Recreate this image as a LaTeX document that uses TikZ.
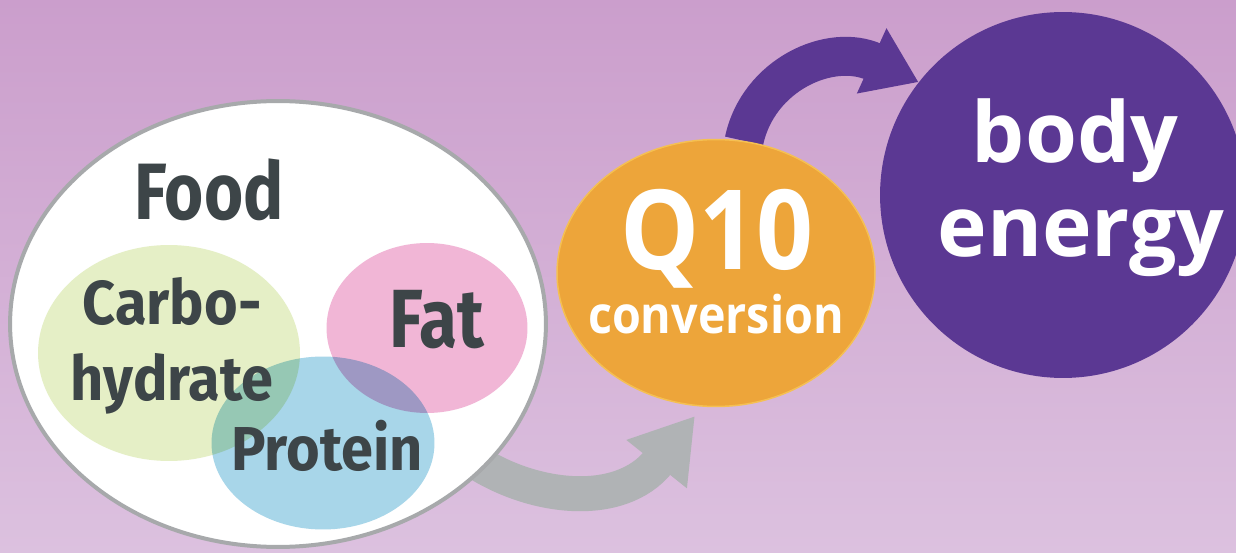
\documentclass[tikz,border=0pt]{standalone}
\usepackage{fontspec}
\usetikzlibrary{shapes.geometric,arrows.meta}
\newfontfamily\darkfont[FakeStretch=0.84]{Fira Sans}
\newfontfamily\darksmall[FakeStretch=0.93]{Fira Sans}
\newfontfamily\lightfont{Open Sans}
\newfontfamily\lightnarrow[FakeStretch=0.9]{Open Sans}
\definecolor{bgtop}{HTML}{CB9ECC}
\definecolor{bgbot}{HTML}{DCC1DF}
\definecolor{rimgray}{HTML}{A7A9AB}
\definecolor{carbo}{HTML}{E5EFC6}
\definecolor{fatpink}{HTML}{F1B6D6}
\definecolor{protblue}{HTML}{A8D6E9}
\definecolor{inkgray}{HTML}{3D4548}
\definecolor{qorange}{HTML}{EDA53A}
\definecolor{qrim}{HTML}{F5C052}
\definecolor{bodypurple}{HTML}{5B3893}
\definecolor{arrgray}{HTML}{B0B3B5}
\pgfdeclarelayer{back}
\pgfdeclarelayer{mid}
\pgfsetlayers{back,mid,main}

\begin{document}
\begin{tikzpicture}[x=0.02cm, y=-0.02cm]
\tikzstyle{blob}=[ellipse, inner sep=0pt]
\tikzstyle{darklbl}=[text=inkgray, inner sep=0pt, anchor=base]
\tikzstyle{lightlbl}=[text=white, inner sep=0pt, anchor=base]
\tikzstyle{grayarr}=[draw=arrgray, line width=0.7cm, shorten <=-0.4cm,
  -{Triangle[width=1.46cm, length=1.23cm]}]
\tikzstyle{purparr}=[draw=bodypurple, line width=0.78cm,
  -{Triangle[width=1.36cm, length=1.03cm]}]

\useasboundingbox (0,0) rectangle (1236,553);
\begin{pgfonlayer}{back}
\fill[top color=bgtop, bottom color=bgbot] (0,0) rectangle (1236,553);
\end{pgfonlayer}
\clip (0,0) rectangle (1236,553);

% food and what it is made of
\node(fd)[blob, fill=white, draw=rimgray, line width=0.08cm,
  minimum width=10.72cm, minimum height=8.92cm] at (278,324) {};
\node(cb)[blob, fill=carbo, minimum width=5.24cm, minimum height=4.32cm] at (169,353) {};
\node(ft)[blob, fill=fatpink, minimum width=4.02cm, minimum height=3.4cm] at (427,328) {};
\begin{scope}[blend mode=multiply]
\node(pr)[blob, fill=protblue, minimum width=4.46cm, minimum height=3.46cm] at (323,443) {};
\end{scope}

\node(fdl)[darklbl, font=\darkfont\bfseries\fontsize{45.5}{45.5}\selectfont] at (209,220) {Food};
\node(cbl)[darklbl, align=center, font=\darksmall\bfseries\fontsize{35.3}{42.7}\selectfont] at (172,400) {Carbo-\\hydrate};
\node(ftl)[darklbl, font=\darkfont\bfseries\fontsize{47}{47}\selectfont] at (437,348) {Fat};
\node(prl)[darklbl, font=\darksmall\bfseries\fontsize{35.3}{35.3}\selectfont] at (327,470) {Protein};

% Q10 and body energy
\node(qt)[blob, fill=qorange, draw=qrim, line width=0.03cm,
  minimum width=6.36cm, minimum height=5.34cm] at (716,273) {};
\node(be)[circle, inner sep=0pt, fill=bodypurple, minimum size=7.32cm] at (1063,195) {};

\node(qtl)[lightlbl, font=\lightnarrow\bfseries\fontsize{63}{63}\selectfont] at (717,270) {Q10};
\node(cvl)[lightlbl, font=\lightnarrow\bfseries\fontsize{29.5}{29.5}\selectfont] at (716,334) {conversion};
\node(bdl)[lightlbl, font=\lightfont\bfseries\fontsize{47.8}{47.8}\selectfont] at (1075,163) {body};
\node(enl)[lightlbl, font=\lightfont\bfseries\fontsize{47.8}{47.8}\selectfont] at (1081,257) {energy};

\coordinate (gtip) at ([yshift=-0.2cm]qt.-99);

\begin{pgfonlayer}{mid}
\draw[grayarr] (fd) .. controls (530,500) and (620,510) .. (gtip);
\draw[purparr] (qt.78) .. controls (758,75) and (830,42) .. (be.142);
\end{pgfonlayer}

\end{tikzpicture}
\end{document}
